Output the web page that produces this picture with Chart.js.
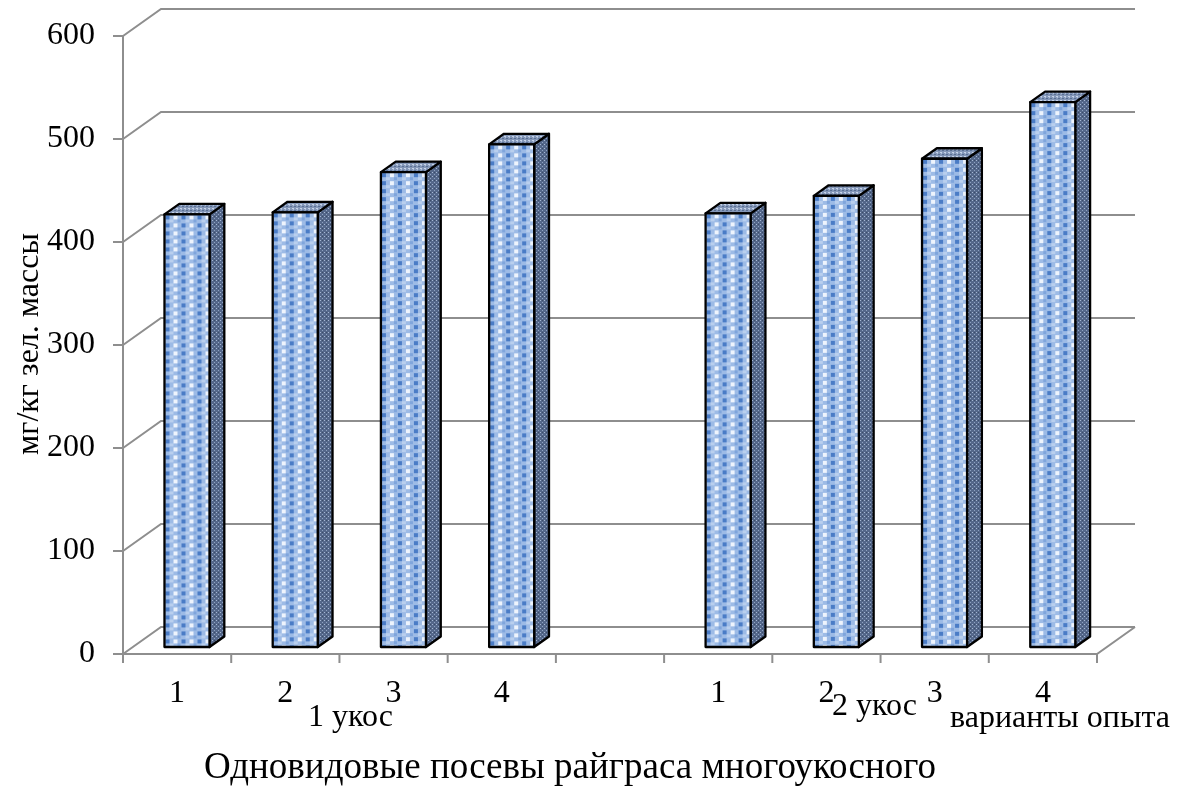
<!DOCTYPE html>
<html lang="ru">
<head>
<meta charset="utf-8">
<title>Одновидовые посевы райграса многоукосного</title>
<script src="https://cdn.jsdelivr.net/npm/chart.js@4.4.0/dist/chart.umd.min.js"></script>
<style>
  html, body { margin: 0; padding: 0; background: #ffffff; }
  #wrap { width: 1189px; height: 789px; position: relative; }
</style>
</head>
<body>
<div id="wrap"><canvas id="c" width="1189" height="789"></canvas></div>
<script>
// Categories: two cuttings (укос), four variants each, with an empty gap slot between them
const variants = ['1', '2', '3', '4', '', '1', '2', '3', '4'];
const cut1 = [420, 422, 461, 488];
const cut2 = [421, 438, 474, 529];
const values = [...cut1, null, ...cut2];
const yTickValues = [0, 100, 200, 300, 400, 500, 600];

const groupLabels = ['1 укос', '2 укос'];
const axisCaption = 'варианты опыта';
const yTitle = 'мг/кг зел. массы';
const bottomTitle = 'Одновидовые посевы райграса многоукосного';

const FONT = '"Liberation Serif", "Times New Roman", serif';

// Depth of the plot box (back wall offset) and placement of the boxes inside it
const DX = 38, DY = -27;
const BAR_FRONT = 0.26, BAR_DEPTH = 0.39;

function makePattern(w, h, bg, cells) {
  const c = document.createElement('canvas');
  c.width = w; c.height = h;
  const g = c.getContext('2d');
  g.fillStyle = bg; g.fillRect(0, 0, w, h);
  for (const [x, y, cw, ch, col] of cells) { g.fillStyle = col; g.fillRect(x, y, cw, ch); }
  return g.createPattern(c, 'repeat');
}

const plot3d = {
  id: 'plot3d',
  beforeDatasetsDraw(chart) {
    const { ctx, chartArea: a, scales: { x, y } } = chart;
    ctx.save();
    ctx.strokeStyle = '#8e8e8e';
    ctx.lineWidth = 2;
    ctx.lineJoin = 'miter';
    // gridlines on the side and back walls
    for (const v of yTickValues) {
      const py = y.getPixelForValue(v);
      ctx.beginPath();
      ctx.moveTo(a.left, py);
      ctx.lineTo(a.left + DX, py + DY);
      ctx.lineTo(a.right + DX, py + DY);
      ctx.stroke();
    }
    // floor front and right edges
    ctx.beginPath();
    ctx.moveTo(a.left, a.bottom);
    ctx.lineTo(a.right, a.bottom);
    ctx.lineTo(a.right + DX, a.bottom + DY);
    ctx.stroke();
    // value axis
    ctx.beginPath();
    ctx.moveTo(a.left, a.top);
    ctx.lineTo(a.left, a.bottom);
    ctx.stroke();
    // value axis tick marks
    for (const v of yTickValues) {
      const py = y.getPixelForValue(v);
      ctx.beginPath();
      ctx.moveTo(a.left - 10, py);
      ctx.lineTo(a.left, py);
      ctx.stroke();
    }
    // category boundary tick marks
    const n = variants.length;
    const slot = (a.right - a.left) / n;
    for (let i = 0; i <= n; i++) {
      const px = a.left + i * slot;
      ctx.beginPath();
      ctx.moveTo(px, a.bottom);
      ctx.lineTo(px, a.bottom + 9);
      ctx.stroke();
    }
    ctx.restore();
  },
  afterDatasetsDraw(chart) {
    const { ctx } = chart;
    const meta = chart.getDatasetMeta(0);
    const front = makePattern(16, 8, '#9dbbe6', [
      [1, 1, 4, 4, '#4a7cc6'], [9, 1, 4, 4, '#eef4fd'],
      [5, 5, 4, 3, '#b9cfee'], [13, 5, 3, 3, '#7fa5dc']
    ]);
    const side = makePattern(4, 4, '#54678a', [
      [0, 0, 1, 1, '#a7b8d4'], [2, 2, 1, 1, '#8ea2c2'], [2, 0, 1, 1, '#3b4c68']
    ]);
    const top = makePattern(4, 4, '#8497b8', [
      [0, 0, 2, 1, '#c6d3e8'], [2, 2, 2, 1, '#5a7094'], [1, 1, 1, 1, '#adbedb']
    ]);
    ctx.save();
    ctx.strokeStyle = '#000000';
    ctx.lineWidth = 2.3;
    ctx.lineJoin = 'round';
    meta.data.forEach((el, i) => {
      if (values[i] == null) return;
      const w = el.width;
      const cx = el.x + BAR_FRONT * DX;
      const l = cx - w / 2, r = cx + w / 2;
      const t = el.y + BAR_FRONT * DY;
      const b = el.base + BAR_FRONT * DY;
      const ddx = BAR_DEPTH * DX, ddy = BAR_DEPTH * DY;
      // right side face
      ctx.beginPath();
      ctx.moveTo(r, t); ctx.lineTo(r + ddx, t + ddy);
      ctx.lineTo(r + ddx, b + ddy); ctx.lineTo(r, b); ctx.closePath();
      ctx.fillStyle = side; ctx.fill(); ctx.stroke();
      // top face
      ctx.beginPath();
      ctx.moveTo(l, t); ctx.lineTo(l + ddx, t + ddy);
      ctx.lineTo(r + ddx, t + ddy); ctx.lineTo(r, t); ctx.closePath();
      ctx.fillStyle = top; ctx.fill(); ctx.stroke();
      // front face
      ctx.beginPath();
      ctx.rect(l, t, w, b - t);
      ctx.save();
      ctx.translate(l, t);
      ctx.fillStyle = front;
      ctx.fillRect(0, 0, w, b - t);
      ctx.restore();
      ctx.stroke();
    });
    ctx.restore();
  },
  afterDraw(chart) {
    const { ctx } = chart;
    ctx.save();
    ctx.fillStyle = '#000000';
    ctx.textBaseline = 'alphabetic';
    ctx.textAlign = 'left';
    ctx.font = '32px ' + FONT;
    ctx.fillText(groupLabels[0], 308, 726);
    ctx.fillText(groupLabels[1], 832, 715);
    ctx.fillText(axisCaption, 950, 727);
    ctx.font = '37px ' + FONT;
    ctx.fillText(bottomTitle, 204, 778);
    // value axis title
    ctx.translate(30, 344);
    ctx.rotate(-Math.PI / 2);
    ctx.textAlign = 'center';
    ctx.textBaseline = 'middle';
    ctx.font = '32px ' + FONT;
    ctx.fillText(yTitle, 0, 0);
    ctx.restore();
  }
};

new Chart(document.getElementById('c'), {
  type: 'bar',
  data: {
    labels: variants,
    datasets: [{
      data: values,
      backgroundColor: 'rgba(0,0,0,0)',
      borderWidth: 0,
      categoryPercentage: 1,
      barPercentage: 0.416
    }]
  },
  options: {
    responsive: false,
    animation: false,
    devicePixelRatio: 1,
    layout: { autoPadding: false, padding: { top: 36, right: 92, left: 0, bottom: 0 } },
    plugins: { legend: { display: false }, tooltip: { enabled: false }, title: { display: false } },
    scales: {
      x: {
        grid: { display: false, drawTicks: false },
        border: { display: false },
        ticks: { color: '#000', font: { family: FONT, size: 32 }, padding: 20, maxRotation: 0, autoSkip: false },
        afterFit(scale) { scale.height = 135; }
      },
      y: {
        min: 0, max: 600,
        grid: { display: false, drawTicks: false },
        border: { display: false },
        ticks: { stepSize: 100, color: '#000', font: { family: FONT, size: 32, lineHeight: 0.5 }, padding: 28 },
        afterFit(scale) { scale.width = 123; }
      }
    }
  },
  plugins: [plot3d]
});
</script>
</body>
</html>
